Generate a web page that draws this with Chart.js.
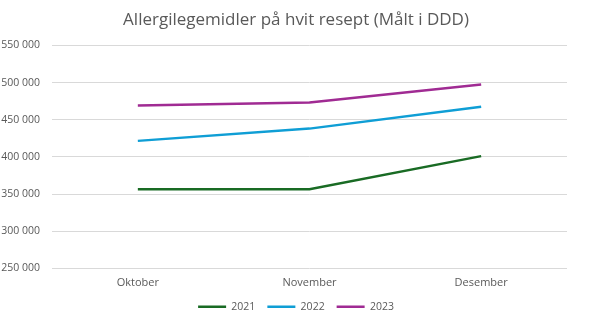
<!DOCTYPE html>
<html>
<head>
<meta charset="utf-8">
<script src="https://cdn.jsdelivr.net/npm/chart.js@4/dist/chart.umd.min.js"></script>
<style>
  html, body { margin: 0; padding: 0; background: #ffffff; }
  #wrap { width: 592px; height: 326px; position: relative; }
</style>
</head>
<body>
<div id="wrap"><canvas id="chart"></canvas></div>
<script>
// Months shown on the category axis
const months = ['Oktober', 'November', 'Desember'];

// Dispensed volume (DDD) per year
const values2021 = [356500, 356500, 401000];
const values2022 = [421500, 438000, 467500];
const values2023 = [469000, 473000, 497500];

const seriesNames = ['2021', '2022', '2023'];
const seriesColors = ['#196B24', '#0F9ED5', '#A02B93'];

// Y axis range and step
const yMin = 250000;
const yMax = 550000;
const yStep = 50000;

const fmt = v => String(v).replace(/\B(?=(\d{3})+(?!\d))/g, ' ');

const textColor = '#595959';
const fontFamily = "'Open Sans', 'Liberation Sans', sans-serif";

const datasets = [values2021, values2022, values2023].map((vals, i) => ({
  label: seriesNames[i],
  data: vals,
  borderColor: seriesColors[i],
  backgroundColor: seriesColors[i],
  borderWidth: 2.5,
  pointRadius: 0,
  pointHoverRadius: 0,
  tension: 0,
  fill: false
}));

new Chart(document.getElementById('chart'), {
  type: 'line',
  data: { labels: months, datasets },
  options: {
    responsive: true,
    maintainAspectRatio: false,
    animation: false,
    layout: { padding: { left: 0, right: 0, top: 2, bottom: 4 } },
    plugins: {
      title: {
        display: true,
        text: 'Allergilegemidler på hvit resept (Målt i DDD)',
        color: textColor,
        font: { family: fontFamily, size: 17, weight: 'normal' },
        padding: { top: 8, bottom: 15 }
      },
      legend: {
        position: 'bottom',
        labels: {
          color: textColor,
          font: { family: fontFamily, size: 10.5 },
          usePointStyle: true,
          pointStyle: 'line',
          pointStyleWidth: 28,
          padding: 12
        }
      },
      tooltip: { enabled: false }
    },
    scales: {
      x: {
        offset: true,
        grid: { display: false },
        border: { display: false },
        ticks: { color: textColor, font: { family: fontFamily, size: 11 }, padding: 0 }
      },
      y: {
        min: yMin,
        max: yMax,
        border: { display: false },
        grid: { color: '#d9d9d9', lineWidth: 1, drawTicks: false },
        afterFit: scale => { scale.width = 52; },
        ticks: {
          stepSize: yStep,
          color: textColor,
          font: { family: fontFamily, size: 10.5 },
          padding: 12,
          callback: v => fmt(v)
        }
      },
      // empty margin on the right edge of the plot area
      yRight: {
        position: 'right',
        display: true,
        border: { display: false },
        grid: { display: false },
        ticks: { display: false },
        afterFit: scale => { scale.width = 25; }
      }
    }
  }
});
</script>
</body>
</html>
